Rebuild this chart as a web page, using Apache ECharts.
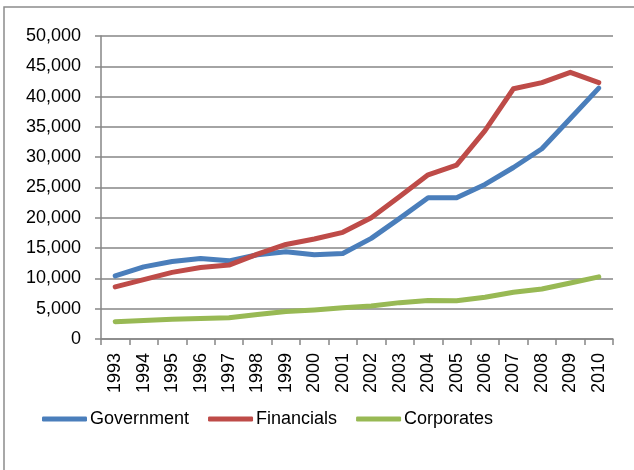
<!DOCTYPE html>
<html>
<head>
<meta charset="utf-8">
<script src="https://cdn.jsdelivr.net/npm/echarts@6/dist/echarts.min.js"></script>
<style>html,body{margin:0;padding:0;background:#fff}#c{width:634px;height:470px}</style>
</head>
<body>
<div id="c"></div>
<script>
var years = ['1993','1994','1995','1996','1997','1998','1999','2000','2001','2002','2003','2004','2005','2006','2007','2008','2009','2010'];
var government = [10400, 11900, 12800, 13300, 12900, 13900, 14400, 13900, 14100, 16600, 19900, 23300, 23300, 25500, 28300, 31400, 36400, 41400];
var financials = [8600, 9800, 11000, 11800, 12200, 14000, 15600, 16500, 17600, 20000, 23500, 27100, 28700, 34400, 41300, 42300, 44000, 42300];
var corporates = [2850, 3050, 3250, 3400, 3500, 4050, 4550, 4800, 5150, 5450, 6000, 6350, 6300, 6900, 7700, 8250, 9250, 10250];
var yTicks = { min: 0, max: 50000, interval: 5000 };

var chart = echarts.init(document.getElementById('c'));
var font = 'Liberation Sans';
function mk(name, data, color) {
  return { name: name, type: 'line', data: data, symbol: 'none', smooth: false,
    lineStyle: { width: 5, color: color, cap: 'round', join: 'round' }, itemStyle: { color: color } };
}
chart.setOption({
  animation: false,
  backgroundColor: '#fff',
  graphic: [{ type: 'rect', shape: { x: 4, y: 7, width: 700, height: 600 }, style: { fill: 'none', stroke: '#8c8c8c', lineWidth: 1.5 }, silent: true }],
  grid: { left: 101, right: 21, top: 36, bottom: 131 },
  legend: {
    left: 37, top: 405, itemWidth: 45, itemHeight: 5, itemGap: 19,
    icon: 'roundRect',
    textStyle: { fontFamily: font, fontSize: 18, color: '#000', padding: [0, 0, 0, -2] },
    data: ['Government', 'Financials', 'Corporates']
  },
  xAxis: {
    type: 'category', data: years, boundaryGap: true,
    axisLine: { lineStyle: { color: '#868686', width: 1.5 } },
    axisTick: { show: true, length: 6, lineStyle: { color: '#868686', width: 1.5 } },
    axisLabel: { rotate: 90, margin: 14, fontFamily: font, fontSize: 18, color: '#000', interval: 0 }
  },
  yAxis: {
    type: 'value', min: yTicks.min, max: yTicks.max, interval: yTicks.interval,
    axisLine: { show: true, lineStyle: { color: '#868686', width: 1.5 } },
    axisTick: { show: true, length: 6, lineStyle: { color: '#868686', width: 1.5 } },
    splitLine: { show: true, lineStyle: { color: '#868686', width: 1.5 } },
    axisLabel: { margin: 20, fontFamily: font, fontSize: 18, color: '#000',
      formatter: function (v) { return v.toLocaleString('en-US'); } }
  },
  series: [mk('Government', government, '#4a7ebb'), mk('Financials', financials, '#be4b48'), mk('Corporates', corporates, '#98b954')]
});
</script>
</body>
</html>
